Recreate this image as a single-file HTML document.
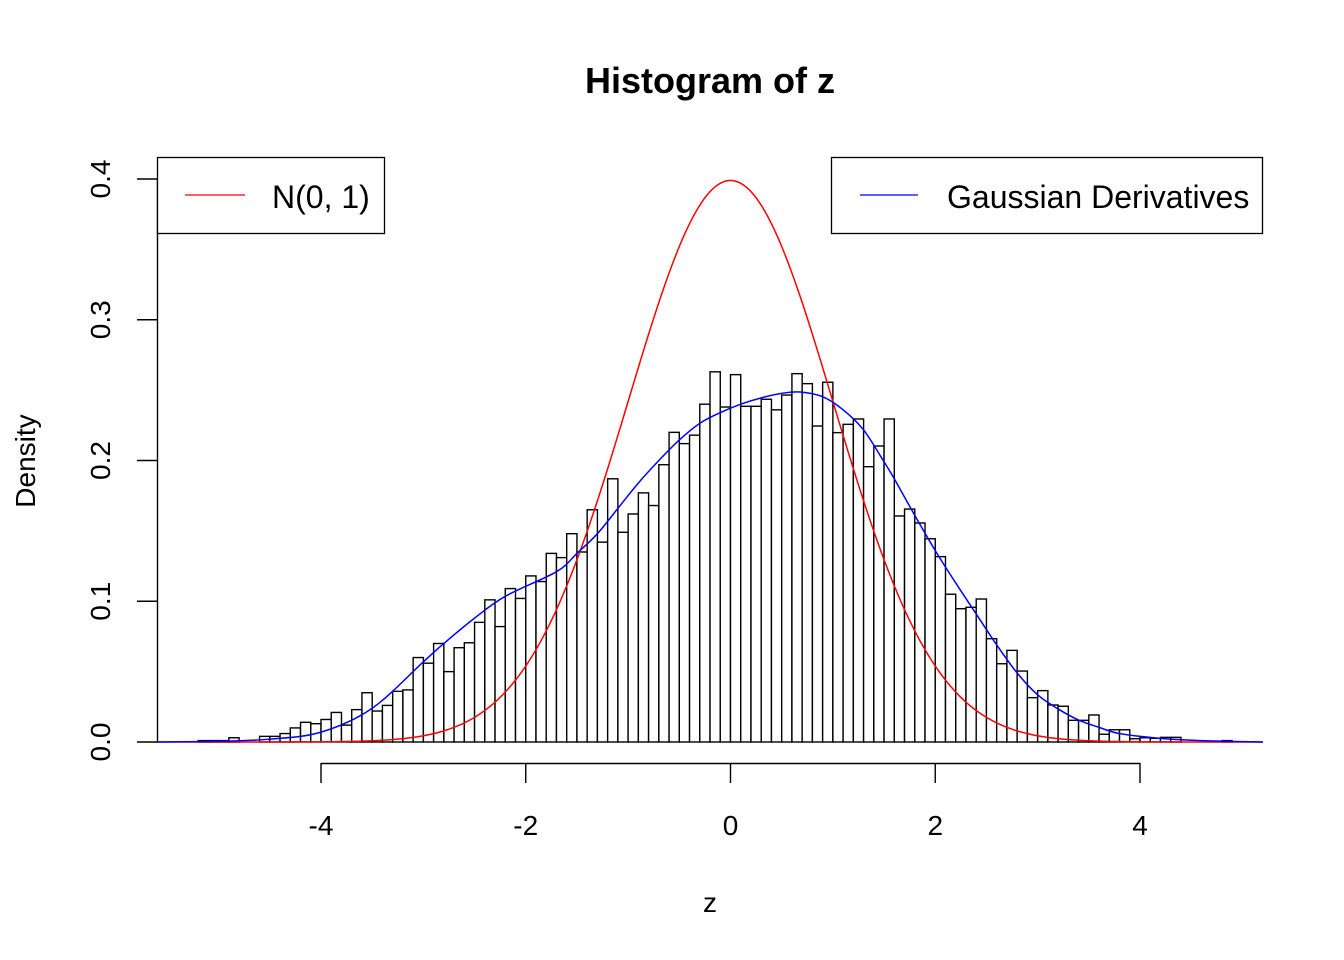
<!DOCTYPE html>
<html><head><meta charset="utf-8"><style>
html,body{margin:0;padding:0;background:#fff;}
svg{display:block;font-family:"Liberation Sans",Arial,sans-serif;}
</style></head><body>
<svg id="chart" width="1344" height="960" viewBox="0 0 1344 960" xmlns="http://www.w3.org/2000/svg">
<rect width="1344" height="960" fill="#fff"/>
<text x="710" y="93" font-size="36" font-weight="bold" text-anchor="middle">Histogram of z</text>
<text x="710" y="912" font-size="28" text-anchor="middle">z</text>
<text transform="translate(35,461) rotate(-90)" font-size="28" text-anchor="middle">Density</text>
<g id="bars"></g>
<g id="curves"></g>
<g id="axes"></g>
<g>
<rect x="157.5" y="157.5" width="227" height="76" fill="#fff" stroke="#000" stroke-width="1.3"/>
<line x1="185" y1="195" x2="245" y2="195" stroke="#f00" stroke-width="1.3"/>
<text x="272" y="208" font-size="32">N(0, 1)</text>
</g>
<g>
<rect x="831.5" y="157.5" width="431" height="76" fill="#fff" stroke="#000" stroke-width="1.3"/>
<line x1="860" y1="195" x2="918" y2="195" stroke="#00f" stroke-width="1.3"/>
<text x="947" y="208" font-size="32">Gaussian Derivatives</text>
</g>
</svg>
<script>
const binStart = -5.2;
const binWidth = 0.1;
const binDensities = [0.001,0.001,0.001,0.003,0,0,0.004,0.004,0.006,0.010,0.014,0.013,0.016,0.021,0.012,0.023,0.035,0.022,0.026,0.036,0.037,0.060,0.056,0.070,0.050,0.067,0.0705,0.085,0.101,0.082,0.109,0.102,0.118,0.114,0.134,0.131,0.148,0.135,0.165,0.142,0.187,0.149,0.162,0.177,0.168,0.197,0.220,0.212,0.218,0.240,0.263,0.238,0.261,0.2385,0.2385,0.2435,0.236,0.2465,0.2617,0.2546,0.2245,0.2556,0.2198,0.2257,0.2295,0.1956,0.2103,0.2295,0.1606,0.1655,0.1556,0.1444,0.1317,0.105,0.0947,0.0957,0.1016,0.0734,0.0556,0.0651,0.0504,0.0315,0.0365,0.0263,0.0254,0.0154,0.0154,0.0192,0.0055,0.0087,0.0087,0.0023,0.003,0.0026,0.0033,0.0033,0,0,0,0,0.001];
const blueX = [-5.6,-5,-4.5,-4,-3.5,-3,-2.8,-2.5,-2.2,-1.7,-1.5,-1.3,-1.1,-0.9,-0.7,-0.5,-0.3,-0.1,0.1,0.3,0.5,0.68,0.9,1.1,1.3,1.5,1.6,1.8,2.0,2.2,2.4,2.6,2.8,3.0,3.2,3.4,3.6,3.8,4.2,4.6,5.2];
const blueY = [0,0.0005,0.002,0.007,0.024,0.057,0.070,0.088,0.1035,0.121,0.134,0.148,0.166,0.184,0.200,0.2146,0.2264,0.234,0.240,0.2445,0.2477,0.2487,0.2453,0.236,0.2217,0.199,0.187,0.161,0.136,0.113,0.091,0.069,0.049,0.0335,0.0235,0.0156,0.0104,0.006,0.0026,0.001,0];
const normalMean = 0;
const normalSd = 1;
const xTicks = [-4,-2,0,2,4];
const yTicks = [0,0.1,0.2,0.3,0.4];
const yTickLabels = ["0.0","0.1","0.2","0.3","0.4"];

const NS = "http://www.w3.org/2000/svg";
const X0 = 730.5, XS = 102.375, Y0 = 742, YS = 1407.5;
const xMin = -5.602, xMax = 5.201;
function sx(v){return X0 + v*XS;}
function sy(v){return Y0 - v*YS;}
function mk(tag, attrs, parent){const e=document.createElementNS(NS,tag);for(const k in attrs)e.setAttribute(k,attrs[k]);parent.appendChild(e);return e;}

const bars = document.getElementById('bars');
binDensities.forEach((d,i)=>{
  if(d<=0) return;
  const a = binStart + i*binWidth;
  const x1 = sx(a), x2 = sx(a+binWidth);
  const r = mk('rect',{x:x1,y:sy(d),width:x2-x1,height:sy(0)-sy(d),fill:'#fff',stroke:'#000','stroke-width':1.4},bars);
  
  
});

const curves = document.getElementById('curves');
let rp = [];
for(let i=0;i<=400;i++){
  const v = xMin + (xMax-xMin)*i/400;
  const d = Math.exp(-0.5*Math.pow((v-normalMean)/normalSd,2))/(normalSd*Math.sqrt(2*Math.PI));
  rp.push(sx(v).toFixed(2)+','+sy(d).toFixed(2));
}
const red = mk('polyline',{points:rp.join(' '),fill:'none',stroke:'#f00','stroke-width':1.5},curves);



let bd = 'M'+sx(blueX[0])+','+sy(blueY[0]);
for(let i=0;i<blueX.length-1;i++){
  const p0=[sx(blueX[Math.max(i-1,0)]),sy(blueY[Math.max(i-1,0)])];
  const p1=[sx(blueX[i]),sy(blueY[i])];
  const p2=[sx(blueX[i+1]),sy(blueY[i+1])];
  const p3=[sx(blueX[Math.min(i+2,blueX.length-1)]),sy(blueY[Math.min(i+2,blueX.length-1)])];
  const c1=[p1[0]+(p2[0]-p0[0])/6,p1[1]+(p2[1]-p0[1])/6];
  const c2=[p2[0]-(p3[0]-p1[0])/6,p2[1]-(p3[1]-p1[1])/6];
  bd+=' C'+c1[0]+','+c1[1]+' '+c2[0]+','+c2[1]+' '+p2[0]+','+p2[1];
}
const blue = mk('path',{d:bd,fill:'none',stroke:'#00f','stroke-width':1.5},curves);



const axes = document.getElementById('axes');
mk('line',{x1:sx(xTicks[0]),y1:763.5,x2:sx(xTicks[xTicks.length-1]),y2:763.5,stroke:'#000','stroke-width':1.4},axes);
xTicks.forEach(t=>{
  mk('line',{x1:sx(t),y1:763,x2:sx(t),y2:783,stroke:'#000','stroke-width':1.4},axes);
  const tx = mk('text',{x:sx(t),y:835,'font-size':28,'text-anchor':'middle'},axes);
  tx.textContent = String(t);
  
  
});
mk('line',{x1:157.5,y1:sy(yTicks[0]),x2:157.5,y2:sy(yTicks[yTicks.length-1]),stroke:'#000','stroke-width':1.4},axes);
yTicks.forEach((t,i)=>{
  mk('line',{x1:137,y1:sy(t),x2:157.5,y2:sy(t),stroke:'#000','stroke-width':1.4},axes);
  const tx = mk('text',{transform:'translate(110,'+sy(t)+') rotate(-90)','font-size':28,'text-anchor':'middle'},axes);
  tx.textContent = yTickLabels[i];
  
  
});
</script>
</body></html>
